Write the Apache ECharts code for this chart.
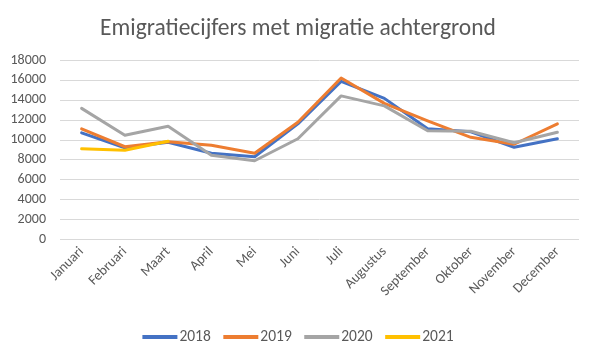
<!DOCTYPE html>
<html><head><meta charset="utf-8">
<script src="https://cdn.jsdelivr.net/npm/echarts@6/dist/echarts.min.js"></script>
<style>html,body{margin:0;padding:0;background:#fff}#c{width:596px;height:349px}</style>
</head><body><div id="c"></div>
<script>
const categories = ['Januari','Februari','Maart','April','Mei','Juni','Juli','Augustus','September','Oktober','November','December'];
const s2018 = [10700, 9200, 9750, 8650, 8300, 11600, 15850, 14150, 11100, 10800, 9250, 10100];
const s2019 = [11100, 9300, 9800, 9450, 8650, 11750, 16200, 13650, 11900, 10250, 9550, 11600];
const s2020 = [13150, 10450, 11350, 8450, 7900, 10100, 14400, 13400, 10900, 10850, 9700, 10750];
const s2021 = [9100, 8950, 9850];
const seriesNames = ['2018','2019','2020','2021'];
const colors = ['#4472C4','#ED7D31','#A5A5A5','#FFC000'];
const yTicks = {min: 0, max: 18000, interval: 2000};
const font = 'Carlito, Calibri, "Open Sans", sans-serif';
const chart = echarts.init(document.getElementById('c'));
const data = [s2018, s2019, s2020, s2021];
chart.setOption({
  animation: false,
  title: {text: 'Emigratiecijfers met migratie achtergrond', left: 'center', top: 12,
    textStyle: {fontFamily: font, fontSize: 23.5, fontWeight: 'normal', color: '#595959'}},
  grid: {left: 60, right: 17, top: 60, bottom: 109.5},
  legend: {top: 324, left: 'center', itemWidth: 35, itemHeight: 4, itemGap: 12.5, icon: 'rect',
    textStyle: {fontFamily: font, fontSize: 15.5, color: '#595959', padding: [0, 0, 0, -3]},
    data: seriesNames},
  xAxis: {type: 'category', data: categories, boundaryGap: true,
    axisLine: {show: false}, axisTick: {show: false},
    axisLabel: {rotate: 45, interval: 0, fontFamily: font, fontSize: 14, color: '#595959', margin: 10}},
  yAxis: {type: 'value', min: yTicks.min, max: yTicks.max, interval: yTicks.interval,
    axisLine: {show: false}, axisTick: {show: false},
    axisLabel: {fontFamily: font, fontSize: 14, color: '#595959', margin: 14, formatter: v => String(v)},
    splitLine: {lineStyle: {color: '#D9D9D9', width: 1}}},
  series: seriesNames.map((n, i) => ({
    name: n, type: 'line', data: data[i], symbol: 'none', color: colors[i],
    lineStyle: {width: 3, color: colors[i], join: 'round', cap: 'round'}
  }))
});
</script></body></html>
